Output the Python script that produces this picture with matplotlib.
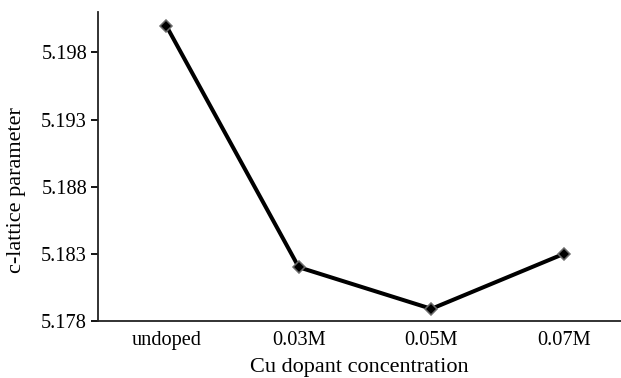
import matplotlib
matplotlib.use("Agg")
import matplotlib.pyplot as plt

# values
categories = ["undoped", "0.03M", "0.05M", "0.07M"]
c_lattice = [5.2000, 5.1820, 5.1789, 5.1830]
yticks = [5.178, 5.183, 5.188, 5.193, 5.198]

plt.rcParams["font.family"] = ["Liberation Serif", "DejaVu Serif"]

fig = plt.figure(figsize=(6.21, 3.78), dpi=100)
ax = fig.add_axes([0.158, 0.151, 0.842, 0.817])

xs = range(len(categories))
ax.plot(xs, c_lattice, color="black", lw=2.9, marker="D", markersize=6.5,
        markerfacecolor="black", markeredgecolor="#6a6a6a", markeredgewidth=1.1,
        zorder=3)

ax.set_xlim(-0.513, 3.43)
ax.set_ylim(5.178, 5.2010)
ax.set_xticks(list(xs))
ax.set_xticklabels(categories)
ax.set_yticks(yticks)
ax.set_yticklabels(["%.3f" % v for v in yticks])

for side in ["top", "right"]:
    ax.spines[side].set_visible(False)
for side in ["left", "bottom"]:
    ax.spines[side].set_linewidth(1.3)
    ax.spines[side].set_color("#222222")

ax.tick_params(axis="x", length=0, pad=7, labelsize=14.7)
ax.tick_params(axis="y", direction="out", length=5, width=1.3, pad=3, labelsize=14.7)

ax.set_xlabel("Cu dopant concentration", fontsize=16, labelpad=6)
ax.set_ylabel("c-lattice parameter", fontsize=16)
# label sits a bit below the axis middle in the original
ax.yaxis.set_label_coords(-0.138, 0.424)

fig.savefig("out.png", dpi=100)
